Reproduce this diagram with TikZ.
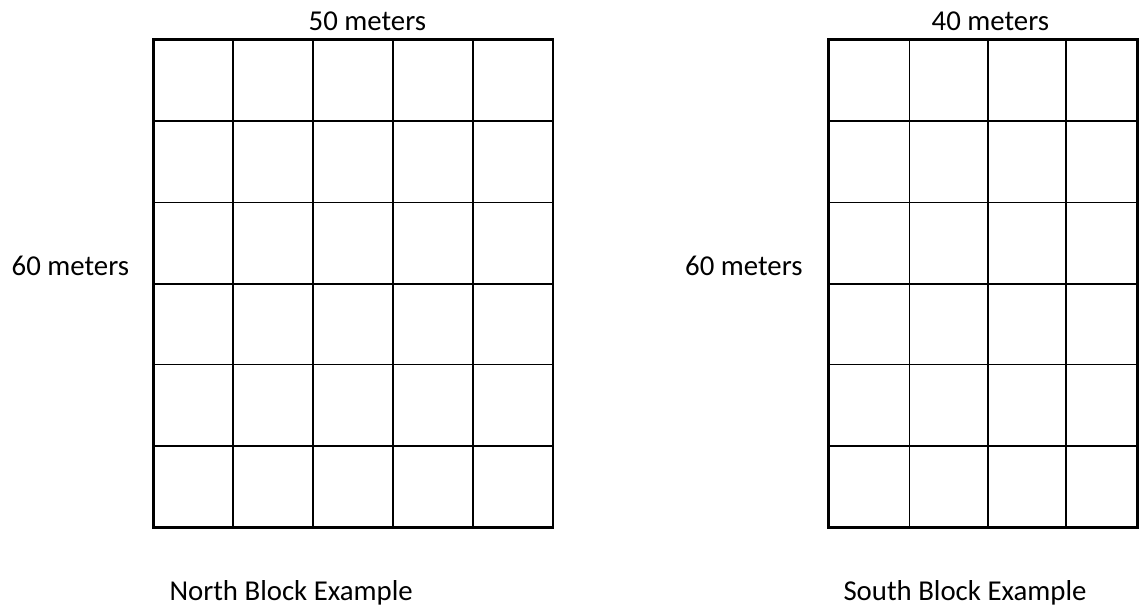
\documentclass[tikz,border=0pt]{standalone}
\usepackage{fontspec}
\setmainfont{Carlito}
\begin{document}
\begin{tikzpicture}[x=1pt,y=-1pt,
  outer/.style={line width=2.8pt,line join=miter},
  inner/.style={line width=1.6pt},
  lbl/.style={inner sep=0pt,anchor=base west,font=\fontsize{28.8}{34}\selectfont}]
\useasboundingbox (0,0) rectangle (1139,606);
% North block grid
\foreach \x in {233,313,393,473}
  \draw[inner] (\x,39.5) -- (\x,527.5);
\foreach \y in {121,202.3,284,364.5,446}
  \draw[inner] (153.3,\y) -- (553,\y);
\draw[outer] (153.3,39.5) rectangle (553,527.5);
% South block grid
\foreach \x in {909.5,988,1066}
  \draw[inner] (\x,39.5) -- (\x,527.5);
\foreach \y in {121,202.3,284,364.5,446}
  \draw[inner] (828.5,\y) -- (1137.6,\y);
\draw[outer] (828.5,39.5) rectangle (1137.6,527.5);
% labels
\node[lbl] (ntop) at (308.5,30) {50 meters};
\node[lbl] (nleft) at (11.5,275) {60 meters};
\node[lbl] (stop) at (931.5,30) {40 meters};
\node[lbl] (sleft) at (685,275) {60 meters};
\node[lbl] (ncap) at (169.3,600) {North Block Example};
\node[lbl] (scap) at (843.3,600) {South Block Example};
\end{tikzpicture}
\end{document}
